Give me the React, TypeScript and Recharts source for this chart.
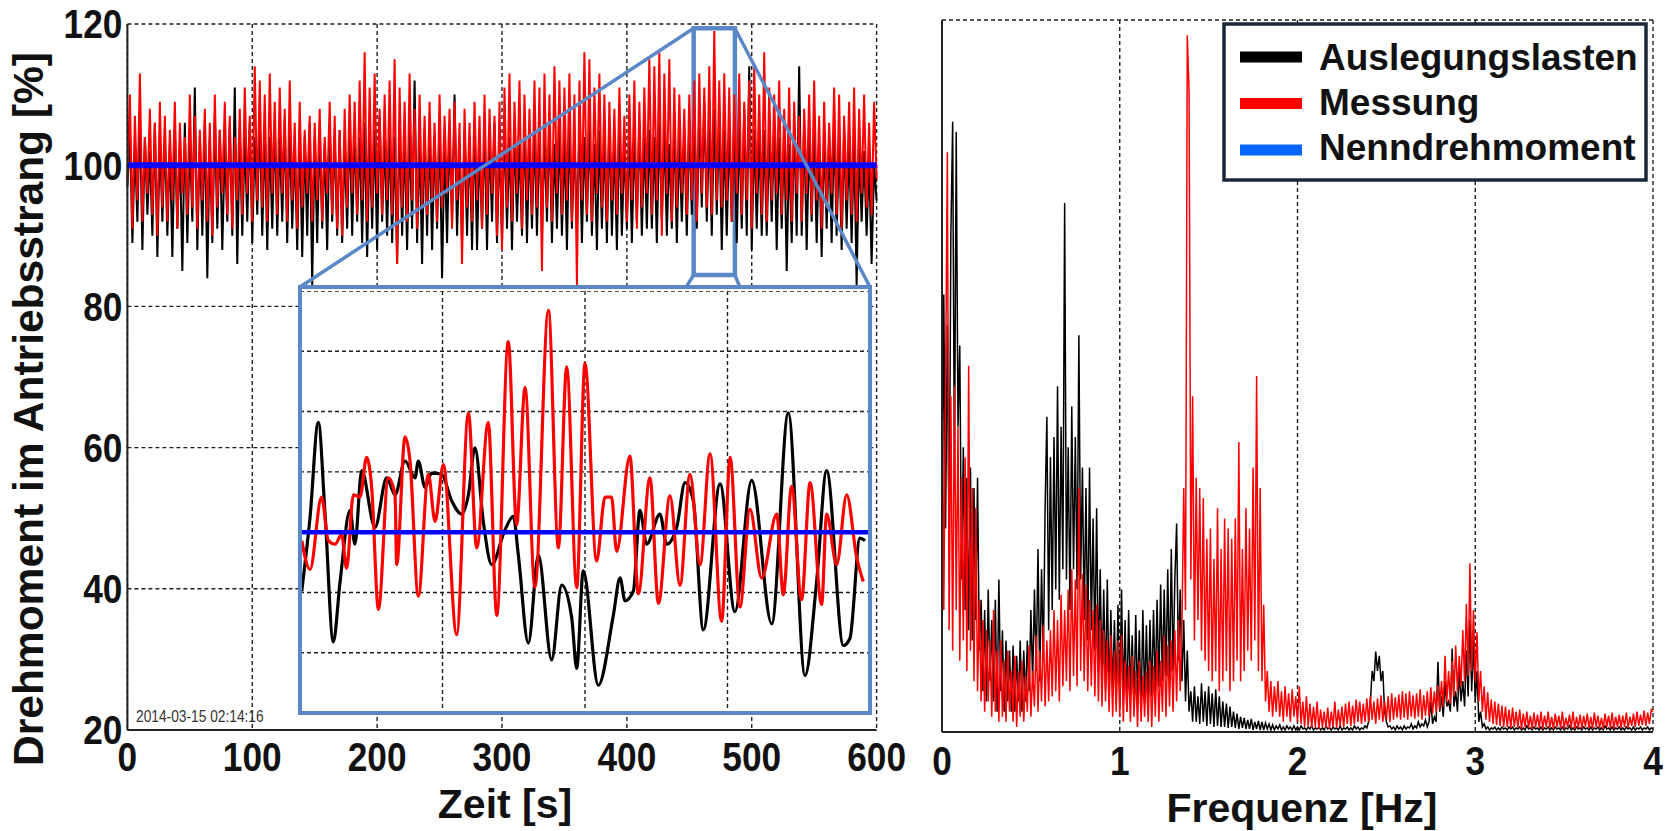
import React from "react";
import { LineChart, Line, XAxis, YAxis, CartesianGrid, ReferenceLine, ReferenceArea } from "recharts";

const FONT = '"Liberation Sans", Arial, sans-serif';
const RED = "#ff0000";
const BLACK = "#000000";
const BLUE = "#0000ff";
const LEGEND_BLUE = "#0a66ff";
const ZOOM_BLUE = "#5a88c6";
const GRID = "#1e1e1e";

// axes
const timeTicks = [0, 100, 200, 300, 400, 500, 600];
const torqueTicks = [20, 40, 60, 80, 100, 120];
const freqTicks = [0, 1, 2, 3, 4];
const ampTicks = [0, 1, 2, 3, 4, 5, 6, 7];
const TIME_STEP = 2; // s between samples of the 600 s record
const FREQ_STEP = 0.01; // Hz between spectrum bins
const NOMINAL = 100;

// torque time series [%], one value every 2 s (15 values = 30 s per row)
const torqueMeasured = [
  98, 110, 91, 107, 95, 113, 92, 104, 96, 108, 93, 106, 90, 109, 94,
  107, 92, 105, 95, 109, 91, 106, 96, 104, 93, 110, 94, 107, 91, 105,
  95, 108, 92, 106, 90, 110, 94, 105, 96, 109, 93, 107, 91, 104, 95,
  108, 93, 111, 96, 107, 92, 114, 95, 112, 94, 110, 92, 113, 96, 109,
  93, 111, 96, 108, 92, 112, 95, 106, 91, 109, 94, 105, 96, 107, 92,
  106, 95, 108, 92, 104, 96, 109, 93, 107, 91, 105, 90, 108, 94, 110,
  96, 109, 93, 112, 95, 116, 92, 111, 94, 113, 96, 108, 93, 110, 95,
  112, 93, 115, 86, 111, 94, 109, 92, 113, 95, 108, 91, 110, 94, 107,
  93, 109, 95, 106, 92, 110, 94, 107, 96, 108, 91, 109, 95, 106, 86,
  108, 94, 106, 92, 109, 95, 107, 91, 110, 93, 108, 96, 107, 90, 109,
  88, 111, 94, 113, 92, 109, 96, 112, 91, 110, 95, 108, 93, 112, 94,
  111, 85, 113, 94, 110, 92, 114, 96, 112, 93, 111, 95, 113, 92, 110,
  83, 112, 95, 116, 93, 115, 92, 111, 96, 113, 94, 110, 92, 109, 95,
  108, 93, 111, 96, 107, 92, 110, 95, 112, 91, 109, 94, 111, 96, 115,
  93, 114, 95, 116, 90, 113, 96, 115, 92, 111, 94, 110, 96, 108, 93,
  110, 95, 112, 92, 113, 96, 111, 94, 114, 93, 119, 95, 112, 94, 113,
  95, 111, 92, 110, 96, 113, 93, 109, 95, 112, 91, 114, 96, 110, 93,
  116, 92, 111, 95, 110, 96, 112, 93, 108, 95, 111, 92, 109, 96, 107,
  92, 108, 96, 110, 93, 112, 95, 107, 91, 109, 94, 106, 96, 111, 93,
  110, 91, 107, 95, 109, 93, 111, 92, 108, 96, 110, 94, 106, 93, 109,
  98,
];

const torqueDesign = [
  97, 105, 89, 103, 92, 108, 88, 104, 93, 102, 90, 106, 87, 104, 92,
  104, 90, 103, 87, 105, 91, 103, 85, 106, 89, 104, 92, 111, 88, 104,
  90, 106, 84, 104, 89, 107, 91, 105, 88, 103, 92, 106, 90, 111, 86,
  105, 90, 104, 92, 106, 89, 104, 93, 107, 90, 105, 88, 104, 91, 106,
  90, 104, 92, 106, 89, 105, 91, 103, 88, 105, 87, 104, 90, 106, 83,
  104, 89, 105, 91, 103, 88, 106, 92, 104, 90, 105, 89, 103, 91, 106,
  90, 105, 92, 104, 89, 106, 87, 104, 91, 105, 88, 107, 92, 104, 90,
  105, 89, 104, 86, 106, 90, 104, 88, 105, 91, 112, 89, 104, 86, 105,
  90, 105, 88, 104, 91, 106, 84, 103, 89, 105, 92, 110, 90, 103, 89,
  105, 90, 104, 88, 106, 88, 103, 91, 105, 88, 104, 92, 106, 89, 104,
  89, 106, 91, 104, 88, 105, 92, 103, 90, 106, 89, 104, 91, 105, 90,
  105, 90, 104, 92, 106, 89, 103, 91, 105, 90, 104, 88, 106, 91, 104,
  91, 105, 89, 104, 92, 106, 90, 103, 88, 105, 91, 104, 89, 106, 90,
  104, 88, 106, 90, 103, 91, 105, 89, 104, 92, 106, 90, 104, 91, 105,
  91, 104, 89, 106, 92, 105, 90, 103, 91, 106, 89, 104, 92, 105, 90,
  106, 93, 108, 91, 107, 94, 109, 92, 106, 90, 108, 93, 107, 88, 105,
  90, 105, 92, 107, 89, 106, 91, 108, 90, 114, 88, 105, 91, 104, 90,
  105, 90, 104, 92, 106, 88, 104, 91, 105, 85, 103, 89, 106, 90, 114,
  90, 106, 88, 104, 92, 105, 89, 103, 87, 105, 91, 104, 89, 106, 90,
  104, 88, 105, 91, 103, 89, 104, 83, 103, 92, 102, 90, 101, 86, 100,
  95,
];

// amplitude spectrum, one value every 0.01 Hz (20 values = 0.2 Hz per row)
const spectrumMeasured = [
  3.7, 1.2, 3.4, 5.7, 1.0, 3.3, 0.8, 3.4, 1.2, 3.0, 0.7, 2.5, 0.9, 2.7, 0.6, 3.6, 0.8, 2.4, 0.5, 2.2,
  0.4, 1.3, 0.3, 1.1, 0.2, 1.0, 0.3, 0.9, 0.15, 1.2, 0.2, 0.8, 0.1, 0.9, 0.15, 0.7, 0.1, 0.8, 0.2, 0.6,
  0.1, 0.75, 0.05, 0.6, 0.15, 0.7, 0.1, 0.55, 0.2, 0.85, 0.15, 0.6, 0.25, 0.95, 0.2, 0.8, 0.3, 1.05, 0.25, 0.9,
  0.3, 1.0, 0.35, 1.2, 0.4, 1.1, 0.3, 1.35, 0.45, 1.2, 0.5, 1.4, 0.4, 1.6, 0.55, 1.5, 0.45, 2.4, 0.6, 1.55,
  0.5, 1.45, 0.4, 1.3, 0.45, 1.2, 0.35, 1.25, 0.3, 1.1, 0.25, 1.0, 0.3, 0.9, 0.2, 0.95, 0.15, 0.8, 0.2, 0.9,
  0.15, 0.95, 0.1, 0.7, 0.2, 0.65, 0.1, 0.75, 0.15, 0.6, 0.05, 0.7, 0.1, 0.55, 0.15, 0.6, 0.1, 0.7, 0.05, 0.65,
  0.15, 0.8, 0.1, 0.7, 0.2, 0.95, 0.15, 0.85, 0.25, 0.9, 0.2, 1.0, 0.3, 1.1, 0.4, 1.05, 2.4, 1.2, 6.85, 6.3,
  1.5, 3.3, 0.9, 2.5, 1.1, 2.4, 0.8, 2.3, 0.7, 1.9, 0.6, 2.0, 0.5, 1.7, 0.6, 2.2, 0.4, 1.8, 0.5, 2.1,
  0.6, 2.0, 0.4, 1.9, 0.5, 2.1, 0.7, 2.85, 0.5, 1.8, 0.6, 2.2, 0.8, 2.0, 0.7, 2.6, 0.9, 3.5, 0.6, 2.4,
  0.5, 1.25, 0.3, 0.6, 0.2, 0.5, 0.15, 0.45, 0.2, 0.5, 0.15, 0.4, 0.1, 0.45, 0.15, 0.38, 0.1, 0.42, 0.15, 0.35,
  0.1, 0.45, 0.08, 0.3, 0.05, 0.35, 0.06, 0.28, 0.04, 0.25, 0.05, 0.3, 0.03, 0.22, 0.05, 0.2, 0.04, 0.24, 0.03, 0.2,
  0.05, 0.3, 0.04, 0.22, 0.06, 0.25, 0.05, 0.28, 0.08, 0.3, 0.06, 0.26, 0.08, 0.32, 0.1, 0.3, 0.08, 0.28, 0.1, 0.33,
  0.1, 0.35, 0.12, 0.3, 0.08, 0.33, 0.12, 0.36, 0.1, 0.3, 0.12, 0.35, 0.1, 0.38, 0.12, 0.34, 0.14, 0.37, 0.12, 0.4,
  0.14, 0.38, 0.12, 0.4, 0.15, 0.36, 0.13, 0.38, 0.15, 0.42, 0.12, 0.36, 0.16, 0.4, 0.15, 0.44, 0.18, 0.4, 0.2, 0.46,
  0.22, 0.5, 0.25, 0.75, 0.3, 0.6, 0.28, 0.7, 0.35, 0.85, 0.4, 0.75, 0.45, 1.0, 0.5, 1.26, 0.55, 1.66, 0.6, 1.2,
  0.5, 0.98, 0.3, 0.6, 0.2, 0.45, 0.12, 0.39, 0.1, 0.32, 0.08, 0.3, 0.07, 0.28, 0.06, 0.26, 0.05, 0.25, 0.05, 0.22,
  0.04, 0.24, 0.05, 0.2, 0.04, 0.22, 0.03, 0.18, 0.05, 0.2, 0.04, 0.16, 0.03, 0.19, 0.05, 0.17, 0.04, 0.2, 0.03, 0.16,
  0.05, 0.2, 0.04, 0.15, 0.03, 0.18, 0.05, 0.16, 0.04, 0.2, 0.03, 0.14, 0.05, 0.17, 0.04, 0.2, 0.03, 0.15, 0.04, 0.17,
  0.03, 0.16, 0.05, 0.18, 0.04, 0.15, 0.03, 0.19, 0.05, 0.16, 0.04, 0.14, 0.03, 0.18, 0.05, 0.16, 0.04, 0.19, 0.03, 0.15,
  0.05, 0.17, 0.04, 0.16, 0.05, 0.19, 0.04, 0.15, 0.06, 0.18, 0.05, 0.2, 0.06, 0.17, 0.07, 0.21, 0.06, 0.19, 0.08, 0.22,
  0.2,
];

const spectrumDesign = [
  1.4, 4.3, 2.0, 4.0, 1.8, 4.9, 6.0, 2.5, 5.9, 3.0, 3.8, 1.5, 2.8, 1.2, 2.5, 1.0, 2.6, 0.9, 2.4, 1.1,
  2.5, 0.8, 1.3, 0.4, 1.2, 0.3, 1.4, 0.5, 1.1, 0.3, 1.3, 0.2, 1.5, 0.4, 1.0, 0.2, 0.9, 0.3, 0.8, 0.2,
  0.85, 0.2, 0.75, 0.3, 0.9, 0.2, 0.8, 0.3, 0.9, 0.4, 1.2, 0.5, 1.4, 0.6, 1.8, 0.5, 1.6, 0.7, 2.2, 3.1,
  1.0, 2.7, 1.2, 2.9, 1.4, 3.4, 1.3, 3.0, 1.6, 5.2, 1.5, 2.8, 1.2, 3.2, 1.6, 2.9, 1.4, 3.9, 1.5, 2.6,
  1.1, 2.4, 0.9, 2.6, 1.0, 2.1, 0.8, 2.2, 0.6, 1.6, 0.5, 1.4, 0.4, 1.5, 0.3, 1.2, 0.35, 1.1, 0.3, 1.25,
  0.25, 1.4, 0.3, 1.1, 0.2, 1.2, 0.35, 0.95, 0.25, 1.15, 0.3, 1.0, 0.2, 1.2, 0.3, 1.05, 0.25, 1.1, 0.35, 1.2,
  0.4, 1.3, 0.45, 1.45, 0.5, 1.4, 0.55, 1.6, 0.5, 1.8, 0.6, 1.5, 2.05, 0.7, 1.4, 0.5, 1.1, 0.3, 0.8, 0.2,
  0.4, 0.1, 0.45, 0.1, 0.35, 0.08, 0.48, 0.1, 0.4, 0.06, 0.45, 0.08, 0.38, 0.05, 0.42, 0.06, 0.35, 0.05, 0.3, 0.05,
  0.28, 0.04, 0.25, 0.05, 0.2, 0.04, 0.18, 0.03, 0.15, 0.04, 0.14, 0.03, 0.12, 0.03, 0.13, 0.02, 0.1, 0.03, 0.11, 0.02,
  0.1, 0.02, 0.09, 0.03, 0.08, 0.02, 0.07, 0.02, 0.06, 0.03, 0.07, 0.02, 0.05, 0.02, 0.06, 0.03, 0.05, 0.02, 0.06, 0.02,
  0.05, 0.02, 0.06, 0.03, 0.04, 0.02, 0.05, 0.03, 0.06, 0.02, 0.04, 0.03, 0.05, 0.02, 0.04, 0.02, 0.06, 0.03, 0.04, 0.02,
  0.05, 0.03, 0.04, 0.02, 0.06, 0.02, 0.04, 0.03, 0.05, 0.02, 0.04, 0.02, 0.06, 0.03, 0.05, 0.02, 0.04, 0.03, 0.06, 0.04,
  0.1, 0.3, 0.6, 0.5, 0.79, 0.6, 0.75, 0.5, 0.6, 0.2, 0.1, 0.05, 0.06, 0.03, 0.05, 0.02, 0.06, 0.03, 0.05, 0.02,
  0.06, 0.03, 0.05, 0.04, 0.08, 0.03, 0.06, 0.04, 0.1, 0.05, 0.08, 0.06, 0.12, 0.05, 0.1, 0.3, 0.08, 0.15, 0.1, 0.69,
  0.2, 0.35, 0.15, 0.5, 0.25, 0.3, 0.2, 0.82, 0.25, 0.4, 0.2, 0.6, 0.3, 0.5, 0.25, 0.8, 0.35, 1.1, 0.4, 0.9,
  0.3, 0.6, 0.1, 0.2, 0.05, 0.08, 0.03, 0.05, 0.02, 0.04, 0.03, 0.05, 0.02, 0.04, 0.02, 0.05, 0.03, 0.04, 0.02, 0.05,
  0.03, 0.05, 0.02, 0.04, 0.03, 0.05, 0.02, 0.04, 0.02, 0.06, 0.03, 0.04, 0.02, 0.05, 0.03, 0.04, 0.02, 0.05, 0.02, 0.04,
  0.03, 0.05, 0.02, 0.04, 0.02, 0.05, 0.03, 0.04, 0.02, 0.05, 0.02, 0.04, 0.03, 0.06, 0.02, 0.04, 0.02, 0.05, 0.03, 0.04,
  0.02, 0.05, 0.03, 0.04, 0.02, 0.05, 0.02, 0.04, 0.03, 0.05, 0.02, 0.04, 0.02, 0.06, 0.03, 0.04, 0.02, 0.05, 0.02, 0.04,
  0.03, 0.05, 0.02, 0.04, 0.02, 0.05, 0.03, 0.04, 0.02, 0.05, 0.02, 0.04, 0.03, 0.05, 0.02, 0.04, 0.03, 0.05, 0.02, 0.04,
  0.03,
];

// zoom window: 33 s starting at 453.5 s; [seconds into window, torque %]
const ZOOM_T0 = 453.5;
const ZOOM_LEN = 33;
const zoomTicksT = [0, 8.25, 16.5, 24.75, 33];
const zoomTicksV = [85, 90, 95, 100, 105, 110, 115, 120];

const zoomMeasured: [number, number][] = [
  [0.1, 99.3], [0.58, 96.9], [1.25, 102.9], [1.64, 99.3], [2.03, 99.0], [2.41, 99.8],
  [2.7, 97.0], [3.09, 103.1], [3.47, 102.9], [3.86, 106.2], [4.15, 103.7], [4.54, 93.6],
  [5.11, 104.5], [5.5, 103.1], [5.6, 97.3], [6.08, 107.9], [6.37, 105.9], [6.85, 94.7],
  [7.43, 104.8], [7.82, 100.9], [8.3, 105.6], [9.07, 91.5], [9.75, 109.9], [10.23, 98.7],
  [10.9, 109.1], [11.39, 93.1], [12.06, 115.8], [12.54, 100.6], [13.03, 112.0], [13.6, 95.4],
  [14.38, 118.4], [14.96, 98.7], [15.44, 113.7], [16.02, 95.4], [16.5, 114.0], [17.17, 97.6],
  [17.66, 102.9], [18.04, 102.9], [18.33, 98.4], [19.1, 106.3], [19.59, 94.9], [20.26, 104.5],
  [20.75, 94.1], [21.42, 103.0], [22.0, 95.6], [22.58, 104.8], [23.16, 97.3], [23.74, 106.5],
  [24.41, 92.6], [24.9, 106.2], [25.47, 93.8], [26.05, 101.9], [26.73, 96.2], [27.6, 101.5],
  [27.98, 94.8], [28.46, 103.8], [29.04, 94.4], [29.53, 104.1], [30.2, 94.0], [30.49, 101.5],
  [31.07, 97.3], [31.65, 103.1], [32.23, 97.9], [32.61, 95.9],
];

const zoomDesign: [number, number][] = [
  [0.1, 95.1], [0.58, 101.2], [1.06, 109.1], [1.45, 101.5], [1.93, 90.9], [2.32, 95.9],
  [2.9, 101.8], [3.18, 99.0], [3.57, 105.1], [4.34, 100.4], [5.02, 104.5], [5.5, 103.1],
  [6.08, 105.9], [6.66, 104.5], [6.85, 105.9], [7.24, 103.7], [7.62, 104.9], [8.2, 104.8],
  [8.78, 102.6], [9.36, 101.5], [9.75, 103.1], [10.13, 107.0], [10.61, 100.9], [11.1, 97.3],
  [11.87, 100.2], [12.35, 101.3], [12.64, 98.1], [13.22, 90.8], [13.8, 98.1], [14.57, 89.4],
  [15.15, 95.6], [15.73, 92.9], [16.02, 88.7], [16.4, 96.8], [17.27, 87.3], [18.14, 93.1],
  [18.53, 96.2], [18.82, 94.3], [19.3, 95.1], [19.68, 101.8], [20.07, 99.0], [20.84, 101.5],
  [21.23, 99.0], [21.81, 100.4], [22.29, 104.1], [22.77, 102.6], [23.35, 91.9], [24.32, 104.0],
  [25.18, 93.4], [26.15, 104.3], [27.31, 92.4], [28.27, 109.9], [29.24, 88.1], [29.91, 95.9],
  [30.49, 105.1], [31.46, 90.6], [31.84, 91.2], [32.42, 99.5], [32.71, 99.3],
];

const legendItems = [
  { name: "Auslegungslasten", color: BLACK },
  { name: "Messung", color: RED },
  { name: "Nenndrehmoment", color: LEGEND_BLUE },
];

const torqueRows = torqueMeasured.map((v, i) => ({ t: i * TIME_STEP, red: v, black: torqueDesign[i] }));
const spectrumRows = spectrumMeasured.map((v, i) => ({
  f: Math.round(i * FREQ_STEP * 100) / 100,
  red: v,
  black: spectrumDesign[i],
}));
const zoomRedRows = zoomMeasured.map(([t, v]) => ({ t, v }));
const zoomBlackRows = zoomDesign.map(([t, v]) => ({ t, v }));

// where the inset box sits, in the main chart's own units
const INSET_LEFT_T = 138.2;
const INSET_RIGHT_T = 594.7;
const INSET_TOP_V = 82.75;
const RECT_TOP_V = 119.4;
const RECT_BOTTOM_V = 84.45;

function TickY(props: any) {
  const { x, y, payload } = props;
  return (
    <text transform={`translate(${x},${y}) scale(0.86,1)`} textAnchor="end" dy="0.35em"
      fontFamily={FONT} fontWeight={700} fontSize={41} fill="#111">
      {payload.value}
    </text>
  );
}

function TickX(props: any) {
  const { x, y, payload } = props;
  return (
    <text transform={`translate(${x},${y}) scale(0.86,1)`} textAnchor="middle" dy="0.71em"
      fontFamily={FONT} fontWeight={700} fontSize={41} fill="#111">
      {payload.value}
    </text>
  );
}

const axisLine = { stroke: "#222", strokeWidth: 2 };

export default function App() {
  return (
    <div style={{ position: "absolute", left: 0, top: 0, width: 1671, height: 831, background: "#fff", overflow: "hidden" }}>
      {/* torque over time */}
      <div style={{ position: "absolute", left: 0, top: 0 }}>
        <LineChart width={920} height={831} data={torqueRows} margin={{ top: 24, right: 43.4, bottom: 41, left: 67.4 }}>
          <CartesianGrid stroke={GRID} strokeDasharray="4 3" strokeWidth={1.4} />
          <XAxis dataKey="t" type="number" domain={[0, 600]} ticks={timeTicks} interval={0} height={60}
            tickSize={0} tickMargin={12} tick={TickX} tickLine={false} axisLine={axisLine} />
          <YAxis type="number" domain={[20, 120]} ticks={torqueTicks} interval={0} width={60}
            tickSize={0} tickMargin={5} tick={TickY} tickLine={false} axisLine={axisLine} />
          <Line dataKey="black" stroke={BLACK} strokeWidth={2} dot={false} isAnimationActive={false} />
          <Line dataKey="red" stroke={RED} strokeWidth={2} dot={false} isAnimationActive={false} />
          <ReferenceLine y={NOMINAL} stroke={BLUE} strokeWidth={6} />
          <ReferenceArea x1={ZOOM_T0} x2={ZOOM_T0 + ZOOM_LEN} y1={RECT_BOTTOM_V} y2={RECT_TOP_V}
            fill="#fff" fillOpacity={0} stroke={ZOOM_BLUE} strokeWidth={4.5} />
          <ReferenceLine segment={[{ x: ZOOM_T0, y: RECT_TOP_V }, { x: INSET_LEFT_T, y: INSET_TOP_V }]}
            stroke={ZOOM_BLUE} strokeWidth={3.5} />
          <ReferenceLine segment={[{ x: ZOOM_T0 + ZOOM_LEN, y: RECT_TOP_V }, { x: INSET_RIGHT_T, y: INSET_TOP_V }]}
            stroke={ZOOM_BLUE} strokeWidth={3.5} />
          <ReferenceLine segment={[{ x: ZOOM_T0, y: RECT_BOTTOM_V }, { x: ZOOM_T0 - 6, y: INSET_TOP_V }]}
            stroke={ZOOM_BLUE} strokeWidth={3.5} />
          <ReferenceLine segment={[{ x: ZOOM_T0 + ZOOM_LEN, y: RECT_BOTTOM_V }, { x: ZOOM_T0 + ZOOM_LEN + 4, y: INSET_TOP_V }]}
            stroke={ZOOM_BLUE} strokeWidth={3.5} />
        </LineChart>
      </div>

      {/* zoomed inset */}
      <div style={{ position: "absolute", left: 300, top: 287, width: 570, height: 426, background: "#fff" }} />
      <div style={{ position: "absolute", left: 300, top: 291 }}>
        <LineChart width={570} height={422} margin={{ top: 0, right: 0, bottom: 0, left: 0 }}>
          <CartesianGrid stroke={GRID} strokeDasharray="4 3" strokeWidth={1.4} />
          <XAxis dataKey="t" type="number" domain={[0, ZOOM_LEN]} ticks={zoomTicksT} interval={0} hide />
          <YAxis type="number" domain={[85, 120]} ticks={zoomTicksV} interval={0} hide />
          <Line data={zoomBlackRows} dataKey="v" type="monotone" stroke={BLACK} strokeWidth={3.2}
            dot={false} isAnimationActive={false} />
          <Line data={zoomRedRows} dataKey="v" type="monotone" stroke={RED} strokeWidth={3.2}
            dot={false} isAnimationActive={false} />
          <ReferenceLine y={NOMINAL} stroke={BLUE} strokeWidth={4.5} />
        </LineChart>
      </div>
      <div style={{ position: "absolute", left: 298, top: 285, width: 574, height: 430, boxSizing: "border-box", border: `4px solid ${ZOOM_BLUE}` }} />

      {/* spectrum */}
      <div style={{ position: "absolute", left: 880, top: 0 }}>
        <LineChart width={791} height={831} data={spectrumRows} margin={{ top: 20, right: 18, bottom: 39, left: 2 }}>
          <CartesianGrid stroke={GRID} strokeDasharray="4 3" strokeWidth={1.4} />
          <XAxis dataKey="f" type="number" domain={[0, 4]} ticks={freqTicks} interval={0} height={60}
            tickSize={0} tickMargin={14} tick={TickX} tickLine={false} axisLine={axisLine} />
          <YAxis type="number" domain={[0, 7]} ticks={ampTicks} interval={0} width={60}
            tick={false} tickLine={false} axisLine={axisLine} />
          <Line dataKey="black" stroke={BLACK} strokeWidth={1.5} dot={false} isAnimationActive={false} />
          <Line dataKey="red" stroke={RED} strokeWidth={1.5} dot={false} isAnimationActive={false} />
        </LineChart>
      </div>

      {/* titles, legend, timestamp */}
      <svg width={1671} height={831} style={{ position: "absolute", left: 0, top: 0, pointerEvents: "none" }}>
        <text transform="translate(43,409) rotate(-90)" textAnchor="middle" fontFamily={FONT}
          fontWeight={700} fontSize={42.5} fill="#111">
          Drehmoment im Antriebsstrang [%]
        </text>
        <text x={505} y={818} textAnchor="middle" fontFamily={FONT} fontWeight={700} fontSize={41} fill="#111">
          Zeit [s]
        </text>
        <text x={1302} y={822} textAnchor="middle" fontFamily={FONT} fontWeight={700} fontSize={41} fill="#111">
          Frequenz [Hz]
        </text>
        <text transform="translate(136,722) scale(0.86,1)" fontFamily={FONT} fontSize={16} fill="#333">
          2014-03-15 02:14:16
        </text>
        <rect x={1224} y={24} width={422} height={156} fill="#fff" stroke="#1b2736" strokeWidth={3.5} />
        {legendItems.map((item, i) => (
          <g key={item.name}>
            <line x1={1240} x2={1302} y1={57 + i * 46.5} y2={57 + i * 46.5} stroke={item.color} strokeWidth={11} />
            <text x={1319} y={70 + i * 45} fontFamily={FONT} fontWeight={700} fontSize={37} fill="#111">
              {item.name}
            </text>
          </g>
        ))}
      </svg>
    </div>
  );
}
